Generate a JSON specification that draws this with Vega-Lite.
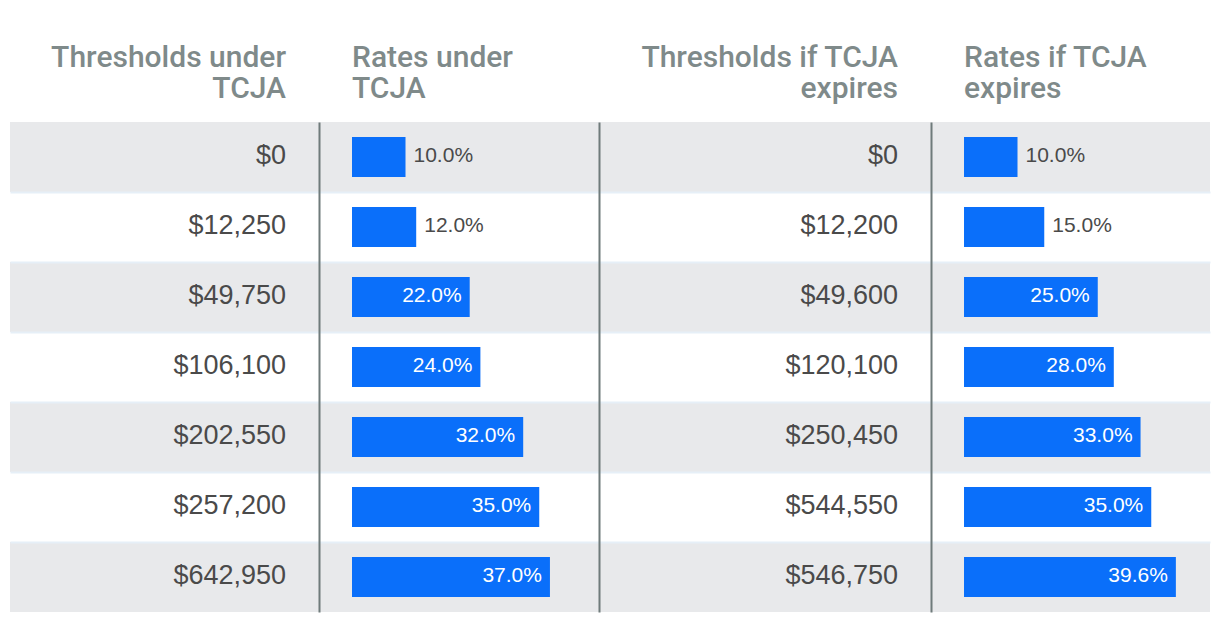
{
  "$schema": "https://vega.github.io/schema/vega-lite/v6.json",
  "background": "white",
  "padding": {"left": 10, "right": 10, "top": 43, "bottom": 10},
  "spacing": 0,
  "config": {
    "view": {"stroke": null},
    "font": "Liberation Sans",
    "title": {"fontSize": 30, "font": "Roboto", "fontWeight": 500, "color": "#7f8a8a", "lineHeight": 31, "offset": 18, "frame": "group"}
  },
  "data": {"values": [
    {"row": 1, "tcja_threshold": 0, "tcja_rate": 0.10, "exp_threshold": 0, "exp_rate": 0.10},
    {"row": 2, "tcja_threshold": 12250, "tcja_rate": 0.12, "exp_threshold": 12200, "exp_rate": 0.15},
    {"row": 3, "tcja_threshold": 49750, "tcja_rate": 0.22, "exp_threshold": 49600, "exp_rate": 0.25},
    {"row": 4, "tcja_threshold": 106100, "tcja_rate": 0.24, "exp_threshold": 120100, "exp_rate": 0.28},
    {"row": 5, "tcja_threshold": 202550, "tcja_rate": 0.32, "exp_threshold": 250450, "exp_rate": 0.33},
    {"row": 6, "tcja_threshold": 257200, "tcja_rate": 0.35, "exp_threshold": 544550, "exp_rate": 0.35},
    {"row": 7, "tcja_threshold": 642950, "tcja_rate": 0.37, "exp_threshold": 546750, "exp_rate": 0.396}
  ]},
  "hconcat": [
    {
      "width": 309, "height": 490,
      "title": {"text": ["Thresholds under", "TCJA"], "anchor": "end", "dx": -33},
      "encoding": {"y": {"field": "row", "type": "ordinal", "scale": {"paddingInner": 0, "paddingOuter": 0}, "axis": {"title": null, "labels": false, "ticks": false, "domain": false, "grid": true, "gridColor": "#e6eff7", "gridWidth": 2, "bandPosition": 0, "values": [2, 3, 4, 5, 6, 7], "zindex": 1}}},
      "layer": [
        {"mark": {"type": "rect"}, "encoding": {"x": {"value": 0}, "x2": {"value": "width"}, "fill": {"condition": {"test": "datum.row % 2 === 1", "value": "#e8e9eb"}, "value": "#ffffff"}}},
        {"mark": {"type": "text", "align": "right", "baseline": "middle", "dx": -33, "dy": -1, "fontSize": 27, "color": "#4a4a4a"}, "encoding": {"x": {"value": "width"}, "text": {"field": "tcja_threshold", "type": "quantitative", "format": "$,.0f"}}}
      ]
    },
    {
      "width": 280, "height": 490,
      "title": {"text": ["Rates under", "TCJA"], "anchor": "start", "dx": 33},
      "encoding": {"y": {"field": "row", "type": "ordinal", "scale": {"paddingInner": 0, "paddingOuter": 0}, "axis": {"title": null, "labels": false, "ticks": false, "domain": true, "domainColor": "#6f7b7b", "domainWidth": 2, "grid": true, "gridColor": "#e6eff7", "gridWidth": 2, "bandPosition": 0, "values": [2, 3, 4, 5, 6, 7], "zindex": 1}}},
      "layer": [
        {"mark": {"type": "rect"}, "encoding": {"x": {"value": 0}, "x2": {"value": "width"}, "fill": {"condition": {"test": "datum.row % 2 === 1", "value": "#e8e9eb"}, "value": "#ffffff"}}},
        {"mark": {"type": "bar", "color": "#0a6ffa", "height": {"band": 0.5714}}, "encoding": {"x": {"field": "tcja_rate", "type": "quantitative", "scale": {"domain": [-0.0617, 0.4617], "nice": false}, "axis": null}}},
        {"transform": [{"filter": "datum.tcja_rate < 0.2"}], "mark": {"type": "text", "align": "left", "baseline": "middle", "dx": 8, "dy": -1, "fontSize": 21, "color": "#4a4a4a"}, "encoding": {"x": {"field": "tcja_rate", "type": "quantitative", "axis": null}, "text": {"field": "tcja_rate", "type": "quantitative", "format": ".1%"}}},
        {"transform": [{"filter": "datum.tcja_rate >= 0.2"}], "mark": {"type": "text", "align": "right", "baseline": "middle", "dx": -8, "dy": -1, "fontSize": 21, "color": "#ffffff"}, "encoding": {"x": {"field": "tcja_rate", "type": "quantitative", "axis": null}, "text": {"field": "tcja_rate", "type": "quantitative", "format": ".1%"}}}
      ]
    },
    {
      "width": 332, "height": 490,
      "title": {"text": ["Thresholds if TCJA", "expires"], "anchor": "end", "dx": -33},
      "encoding": {"y": {"field": "row", "type": "ordinal", "scale": {"paddingInner": 0, "paddingOuter": 0}, "axis": {"title": null, "labels": false, "ticks": false, "domain": true, "domainColor": "#6f7b7b", "domainWidth": 2, "grid": true, "gridColor": "#e6eff7", "gridWidth": 2, "bandPosition": 0, "values": [2, 3, 4, 5, 6, 7], "zindex": 1}}},
      "layer": [
        {"mark": {"type": "rect"}, "encoding": {"x": {"value": 0}, "x2": {"value": "width"}, "fill": {"condition": {"test": "datum.row % 2 === 1", "value": "#e8e9eb"}, "value": "#ffffff"}}},
        {"mark": {"type": "text", "align": "right", "baseline": "middle", "dx": -33, "dy": -1, "fontSize": 27, "color": "#4a4a4a"}, "encoding": {"x": {"value": "width"}, "text": {"field": "exp_threshold", "type": "quantitative", "format": "$,.0f"}}}
      ]
    },
    {
      "width": 279, "height": 490,
      "title": {"text": ["Rates if TCJA", "expires"], "anchor": "start", "dx": 33},
      "encoding": {"y": {"field": "row", "type": "ordinal", "scale": {"paddingInner": 0, "paddingOuter": 0}, "axis": {"title": null, "labels": false, "ticks": false, "domain": true, "domainColor": "#6f7b7b", "domainWidth": 2, "grid": true, "gridColor": "#e6eff7", "gridWidth": 2, "bandPosition": 0, "values": [2, 3, 4, 5, 6, 7], "zindex": 1}}},
      "layer": [
        {"mark": {"type": "rect"}, "encoding": {"x": {"value": 0}, "x2": {"value": "width"}, "fill": {"condition": {"test": "datum.row % 2 === 1", "value": "#e8e9eb"}, "value": "#ffffff"}}},
        {"mark": {"type": "bar", "color": "#0a6ffa", "height": {"band": 0.5714}}, "encoding": {"x": {"field": "exp_rate", "type": "quantitative", "scale": {"domain": [-0.0617, 0.4598], "nice": false}, "axis": null}}},
        {"transform": [{"filter": "datum.exp_rate < 0.2"}], "mark": {"type": "text", "align": "left", "baseline": "middle", "dx": 8, "dy": -1, "fontSize": 21, "color": "#4a4a4a"}, "encoding": {"x": {"field": "exp_rate", "type": "quantitative", "axis": null}, "text": {"field": "exp_rate", "type": "quantitative", "format": ".1%"}}},
        {"transform": [{"filter": "datum.exp_rate >= 0.2"}], "mark": {"type": "text", "align": "right", "baseline": "middle", "dx": -8, "dy": -1, "fontSize": 21, "color": "#ffffff"}, "encoding": {"x": {"field": "exp_rate", "type": "quantitative", "axis": null}, "text": {"field": "exp_rate", "type": "quantitative", "format": ".1%"}}}
      ]
    }
  ]
}
